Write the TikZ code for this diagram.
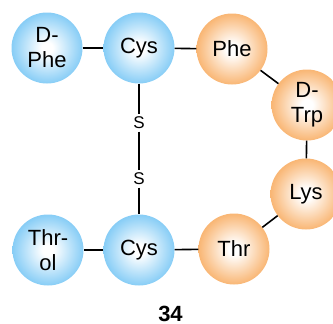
\documentclass[tikz,border=0pt]{standalone}
\usepackage{fontspec}
\setmainfont{Liberation Sans}
\definecolor{blueedge}{RGB}{135,205,246}
\definecolor{orangeedge}{RGB}{249,182,116}
\pgfdeclareradialshading{ballblue}{\pgfpoint{0bp}{0bp}}{color(0bp)=(white); color(4bp)=(white); color(19bp)=(blueedge!72!white); color(25bp)=(blueedge); color(50bp)=(blueedge)}
\pgfdeclareradialshading{ballorange}{\pgfpoint{0bp}{0bp}}{color(0bp)=(white); color(4bp)=(white); color(19bp)=(orangeedge!72!white); color(25bp)=(orangeedge); color(50bp)=(orangeedge)}
\begin{document}
\begin{tikzpicture}[x=1pt,y=-1pt,
  res/.style={circle,minimum size=71pt,inner sep=0pt,align=center,
    font=\fontsize{22}{25}\selectfont},
  bres/.style={res,shading=ballblue},
  ores/.style={res,shading=ballorange},
  sulf/.style={inner sep=2.5pt,font=\fontsize{17}{19}\selectfont},
  bond/.style={line width=1.6pt,black}]
\useasboundingbox (0,0) rectangle (333,324);
\node[bres] (dphe) at (47,48) {D-\\Phe};
\node[bres] (cyst) at (139,48) {Cys};
\node[ores] (phe) at (232,49) {Phe};
\node[ores] (dtrp) at (307,105) {D-\\Trp};
\node[ores] (lys) at (306,194) {Lys};
\node[ores] (thr) at (234,249) {Thr};
\node[bres] (cysb) at (139,250) {Cys};
\node[bres] (throl) at (48,250) {Thr-\\ol};
\node[sulf] (s1) at (139,123) {S};
\node[sulf] (s2) at (139,179) {S};
\node[anchor=base,inner sep=0pt,font=\bfseries\fontsize{22}{24}\selectfont] (lbl) at (170.5,321) {34};
\draw[bond] (dphe) -- (cyst);
\draw[bond] (cyst) -- (phe);
\draw[bond] (phe) -- (dtrp);
\draw[bond] (dtrp) -- (lys);
\draw[bond] (lys) -- (thr);
\draw[bond] (thr) -- (cysb);
\draw[bond] (cysb) -- (throl);
\draw[bond] (cyst) -- (s1);
\draw[bond] (s1) -- (s2);
\draw[bond] (s2) -- (cysb);
\end{tikzpicture}
\end{document}
